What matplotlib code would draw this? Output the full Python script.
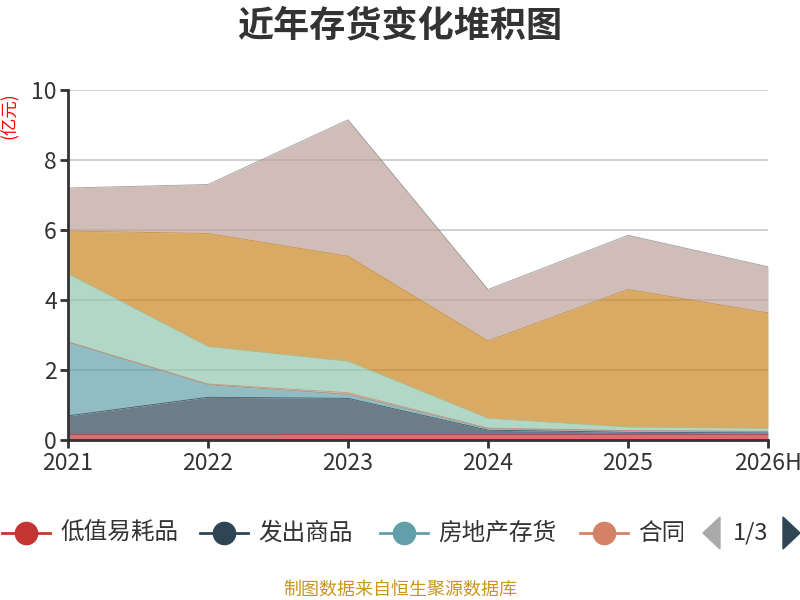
import matplotlib
matplotlib.use("Agg")
import matplotlib.pyplot as plt
import numpy as np
from matplotlib.lines import Line2D
from matplotlib.patches import Polygon
from matplotlib.transforms import Bbox

plt.rcParams['font.family'] = ['Noto Sans CJK SC', 'DejaVu Sans']

# ── DATA (亿元, per-layer values) ─────────────────────────────────────────────
years = ["2021", "2022", "2023", "2024", "2025", "2026H"]
low_value = [0.16, 0.16, 0.15, 0.15, 0.15, 0.15]       # 低值易耗品
goods_shipped = [0.53, 1.06, 1.04, 0.13, 0.07, 0.05]   # 发出商品
real_estate = [2.11, 0.36, 0.11, 0.04, 0.04, 0.04]     # 房地产存货
contract = [0.00, 0.02, 0.05, 0.02, 0.01, 0.01]        # 合同(legend truncated)
layer5 = [1.95, 1.07, 0.90, 0.28, 0.10, 0.08]
layer7 = [1.22, 3.23, 3.00, 2.21, 3.93, 3.30]
layer8 = [1.23, 1.40, 3.90, 1.47, 1.55, 1.32]

layers = [low_value, goods_shipped, real_estate, contract, layer5, layer7, layer8]
colors = ["#c23531", "#2f4554", "#61a0a8", "#d48265", "#91c7ae", "#ca8622", "#bda29a"]
edge_colors = ["#c23531", "#2f4554", "#61a0a8", "#d48265", "#91c7ae", "#ca8622", "#888888"]

legend_names = ["低值易耗品", "发出商品", "房地产存货", "合同"]

# ── PLOT ──────────────────────────────────────────────────────────────────────
fig = plt.figure(figsize=(8, 6), dpi=100)
ax = fig.add_axes([0.085, 0.2667, 0.875, 0.5833])

x = np.arange(len(years))
base = np.zeros(len(years))
for vals, c, ec in zip(layers, colors, edge_colors):
    top = base + np.array(vals)
    ax.fill_between(x, base, top, color=c, alpha=0.7, linewidth=0, zorder=2)
    ax.plot(x, top, color=ec, lw=0.6, alpha=0.8, zorder=3)
    base = top

ax.set_xlim(0, len(years) - 1)
ax.set_ylim(0, 10)
ax.set_yticks([0, 2, 4, 6, 8, 10])
ax.set_xticks(x)
ax.set_xticklabels(years)
ax.set_axisbelow(True)
ax.grid(axis="y", color="#c8c8c8", lw=1.2)
for s in ["top", "right"]:
    ax.spines[s].set_visible(False)
for s in ["left", "bottom"]:
    ax.spines[s].set_color("#333333")
    ax.spines[s].set_linewidth(2)
    ax.spines[s].set_zorder(5)
ax.tick_params(axis="both", colors="#333333", labelsize=16.5, length=6, width=2)
ax.tick_params(axis="y", pad=2)
ax.tick_params(axis="x", pad=3)

fig.text(0.5, 0.957, "近年存货变化堆积图", ha="center", va="center",
         fontsize=26, fontweight="bold", color="#333333")
fig.text(0.012, 0.808, "(亿元)", rotation=90, ha="center", va="center",
         fontsize=12.5, color="red")

# ── LEGEND (manual, paged style) ─────────────────────────────────────────────
ly = 1 - 533 / 600
item_x = [2, 200, 380, 580]
for nm, c, x0 in zip(legend_names, colors[:4], item_x):
    fig.add_artist(Line2D([x0 / 800, (x0 + 48) / 800], [ly, ly], color=c, lw=2,
                          transform=fig.transFigure))
    fig.add_artist(Line2D([(x0 + 24) / 800], [ly], color=c, marker="o",
                          markersize=16, transform=fig.transFigure))
    t = fig.text((x0 + 58) / 800, ly, nm, ha="left", va="center",
                 fontsize=17, color="#333333")
    if x0 == 580:
        t.set_clip_box(Bbox.from_extents(0, 0, 683, 600))
        t.set_clip_on(True)

def px(xp, yp):
    return (xp / 800, 1 - yp / 600)

fig.add_artist(Polygon([px(703, 533), px(720, 517), px(720, 549)], closed=True,
                       color="#aaaaaa", transform=fig.transFigure))
fig.add_artist(Polygon([px(800, 533), px(783, 517), px(783, 549)], closed=True,
                       color="#2f4554", transform=fig.transFigure))
fig.text(751 / 800, ly, "1/3", ha="center", va="center", fontsize=17,
         color="#333333")

fig.text(0.5, 1 - 590 / 600, "制图数据来自恒生聚源数据库", ha="center",
         va="center", fontsize=13, color="#c9961a")

fig.savefig("out.png", dpi=100)
